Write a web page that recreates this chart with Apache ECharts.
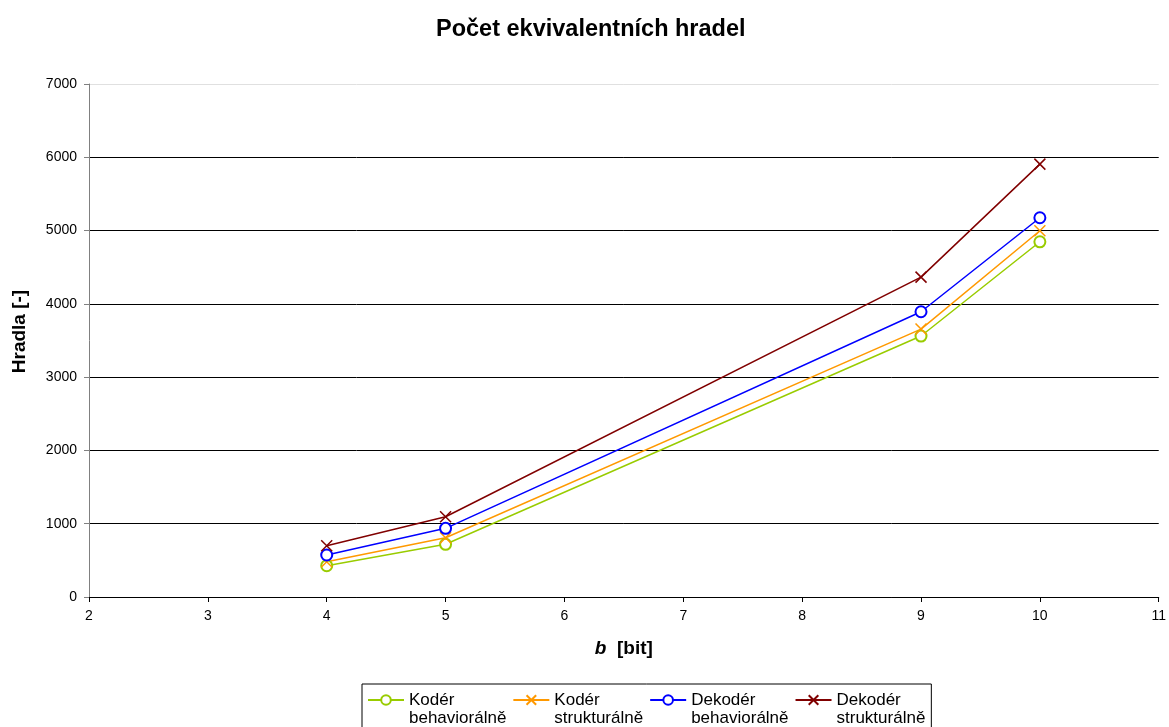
<!DOCTYPE html>
<html>
<head>
<meta charset="utf-8">
<script src="https://cdn.jsdelivr.net/npm/echarts@6/dist/echarts.min.js"></script>
<style>
html,body{margin:0;padding:0;background:#fff;}
#chart{width:1169px;height:727px;}
</style>
</head>
<body>
<div id="chart"></div>
<script>
const titleText = 'Počet ekvivalentních hradel';
const bits = [4, 5, 9, 10];
const seriesNames = ['Kodér\nbehaviorálně', 'Kodér\nstrukturálně', 'Dekodér\nbehaviorálně', 'Dekodér\nstrukturálně'];
const koderBehav = [427, 719, 3561, 4847];
const koderStrukt = [482, 809, 3656, 4997];
const dekoderBehav = [573, 937, 3892, 5175];
const dekoderStrukt = [700, 1095, 4365, 5907];
const colors = ['#99CC00', '#FF9900', '#0000FF', '#800000'];
const crossPath = 'path://M0,0L10,10M10,0L0,10';
const symbols = ['emptyCircle', crossPath, 'emptyCircle', crossPath];
const values = [koderBehav, koderStrukt, dekoderBehav, dekoderStrukt];

const font = 'Liberation Sans, Arial, sans-serif';
const chart = echarts.init(document.getElementById('chart'));

const series = values.map((vals, k) => ({
  name: seriesNames[k],
  type: 'line',
  data: bits.map((b, i) => [b, vals[i]]),
  symbol: symbols[k],
  symbolSize: 11,
  showAllSymbol: true,
  lineStyle: { color: colors[k], width: 1.5 },
  itemStyle: { color: colors[k], borderColor: colors[k], borderWidth: 1.5 },
  emphasis: { disabled: true },
  animation: false
}));

chart.setOption({
  backgroundColor: '#fff',
  animation: false,
  title: {
    text: titleText,
    left: 431,
    top: 13,
    textStyle: { fontFamily: font, fontSize: 23.5, fontWeight: 'bold', color: '#000' }
  },
  grid: { left: 89, right: 10, top: 84, bottom: 130, containLabel: false },
  legend: {
    left: 362,
    top: 684,
    orient: 'horizontal',
    itemWidth: 36,
    itemHeight: 12,
    itemGap: 6,
    padding: [-11, 6, 10, 5],
    borderColor: '#000',
    borderWidth: 1,
    formatter: n => '\n' + n,
    textStyle: { fontFamily: font, fontSize: 17, lineHeight: 18, color: '#000' },
    data: seriesNames
  },
  xAxis: {
    type: 'value',
    min: 2,
    max: 11,
    interval: 1,
    name: '{b|b}{n|  [bit]}',
    nameLocation: 'middle',
    nameGap: 42,
    nameTextStyle: {
      rich: {
        b: { fontFamily: font, fontSize: 19, fontWeight: 'bold', fontStyle: 'italic', color: '#000' },
        n: { fontFamily: font, fontSize: 19, fontWeight: 'bold', color: '#000' }
      }
    },
    axisLine: { show: true, onZero: false, lineStyle: { color: '#000', width: 1 } },
    axisTick: { show: true, length: 5, lineStyle: { color: '#000' } },
    axisLabel: { fontFamily: font, fontSize: 14, color: '#000', margin: 12 },
    splitLine: { show: false }
  },
  yAxis: {
    type: 'value',
    min: 0,
    max: 7000,
    interval: 1000,
    name: 'Hradla [-]',
    nameLocation: 'middle',
    nameGap: 60,
    nameRotate: 90,
    nameTextStyle: { fontFamily: font, fontSize: 19, fontWeight: 'bold', color: '#000', padding: [0, 0, 0, 18] },
    axisLine: { show: true, lineStyle: { color: '#808080', width: 1 } },
    axisTick: { show: true, length: 5, lineStyle: { color: '#808080' } },
    axisLabel: { fontFamily: font, fontSize: 14, color: '#000', margin: 12, formatter: v => String(v) },
    splitLine: {
      show: true,
      lineStyle: { color: ['#000', '#000', '#000', '#000', '#000', '#000', '#000', '#e0e0e0'], width: 1 }
    }
  },
  series: series
});
</script>
</body>
</html>
